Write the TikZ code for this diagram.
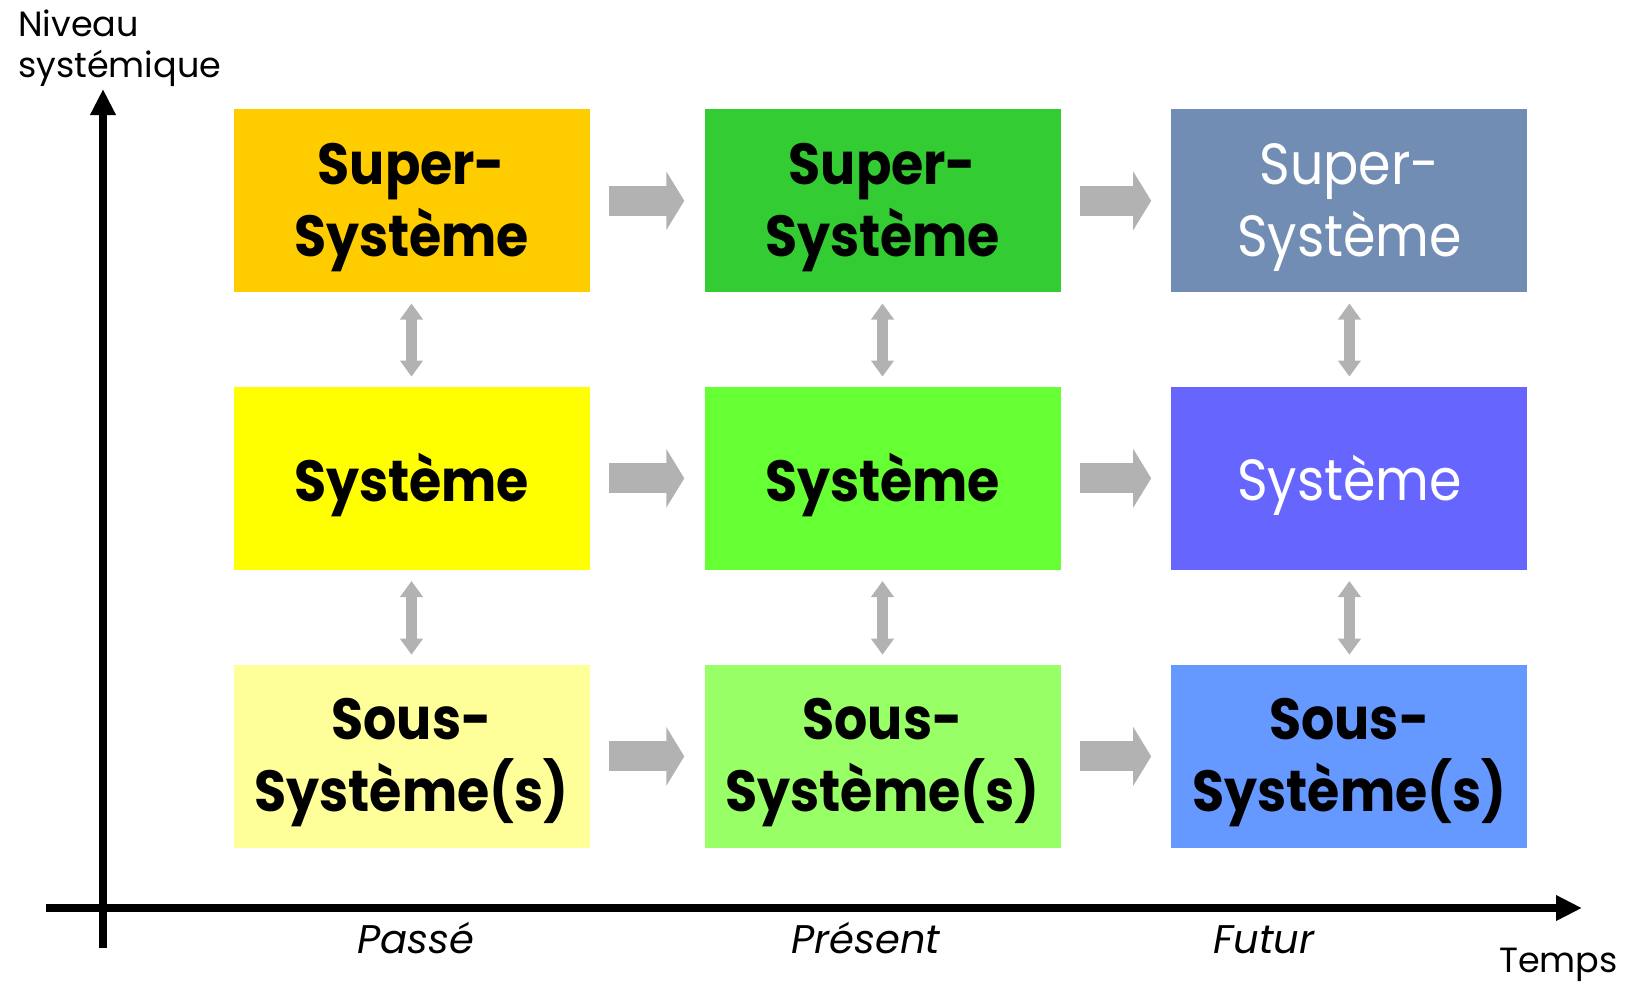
\documentclass[tikz,border=0pt]{standalone}
\usepackage{fontspec}
\setmainfont{Poppins}
\newfontfamily\boxfont[FakeStretch=0.9]{Poppins}
\usetikzlibrary{arrows.meta}

\definecolor{pastA}{RGB}{255,204,0}
\definecolor{pastB}{RGB}{255,255,0}
\definecolor{pastC}{RGB}{255,255,153}
\definecolor{presA}{RGB}{51,204,51}
\definecolor{presB}{RGB}{102,255,51}
\definecolor{presC}{RGB}{153,255,102}
\definecolor{futA}{RGB}{113,141,180}
\definecolor{futB}{RGB}{102,102,255}
\definecolor{futC}{RGB}{102,153,255}
\definecolor{flowgray}{RGB}{178,178,178}

\tikzset{
  levelbox/.style={minimum width=356pt, minimum height=183pt, inner sep=0pt},
  boxtext/.style={inner sep=0pt, align=center, yshift=-6.5pt,
    font=\boxfont\bfseries\fontsize{58}{72}\selectfont},
  lighttext/.style={boxtext, text=white,
    font=\boxfont\mdseries\fontsize{58}{72}\selectfont},
  timeflow/.style={draw=flowgray, line width=30pt,
    -{Triangle[width=58pt,length=18pt]}, shorten <=19pt, shorten >=20pt},
  levellink/.style={draw=flowgray, line width=11pt,
    {Triangle[width=22pt,length=16pt]}-{Triangle[width=22pt,length=16pt]},
    shorten <=11pt, shorten >=10pt},
  axisline/.style={draw=black, line width=8.5pt,
    -{Triangle[width=24pt,length=26pt]}},
  axislabel/.style={inner sep=0pt, font=\fontsize{35}{41}\selectfont},
  timelabel/.style={inner sep=0pt, font=\itshape\fontsize{40}{48}\selectfont},
}

\begin{document}
\begin{tikzpicture}[x=1pt, y=-1pt]
  \useasboundingbox (0,0) rectangle (1627,983);

  % boxes: columns = time, rows = systemic level
  \node[levelbox, fill=pastA, label={[boxtext]center:Super-\\Système}] (pa) at (411.5,200.8) {};
  \node[levelbox, fill=pastB, label={[boxtext]center:Système}] (pb) at (411.5,478.3) {};
  \node[levelbox, fill=pastC, label={[boxtext]center:Sous-\\Système(s)}] (pc) at (411.5,756.4) {};

  \node[levelbox, fill=presA, label={[boxtext]center:Super-\\Système}] (ra) at (882.5,200.8) {};
  \node[levelbox, fill=presB, label={[boxtext]center:Système}] (rb) at (882.5,478.3) {};
  \node[levelbox, fill=presC, label={[boxtext]center:Sous-\\Système(s)}] (rc) at (882.5,756.4) {};

  \node[levelbox, fill=futA, label={[lighttext]center:Super-\\Système}] (fa) at (1349.4,200.8) {};
  \node[levelbox, fill=futB, label={[lighttext]center:Système}] (fb) at (1349.4,478.3) {};
  \node[levelbox, fill=futC, label={[boxtext]center:Sous-\\Système(s)}] (fc) at (1349.4,756.4) {};

  % evolution in time
  \draw[timeflow] (pa.east) -- (ra.west);
  \draw[timeflow] (pb.east) -- (rb.west);
  \draw[timeflow] (pc.east) -- (rc.west);
  \draw[timeflow] (ra.east) -- (fa.west);
  \draw[timeflow] (rb.east) -- (fb.west);
  \draw[timeflow] (rc.east) -- (fc.west);

  % links between levels
  \draw[levellink] (pa.south) -- (pb.north);
  \draw[levellink] (pb.south) -- (pc.north);
  \draw[levellink] (ra.south) -- (rb.north);
  \draw[levellink] (rb.south) -- (rc.north);
  \draw[levellink] (fa.south) -- (fb.north);
  \draw[levellink] (fb.south) -- (fc.north);

  % axes
  \coordinate (ybot) at (103,948);
  \coordinate (ytop) at (103,89);
  \coordinate (xleft) at (46,908);
  \coordinate (xright) at (1582,908);
  \draw[axisline] (ybot) -- (ytop);
  \draw[axisline] (xleft) -- (xright);

  \node[axislabel, anchor=base west] (ylab) at (18,36) {Niveau};
  \node[axislabel, anchor=base west] (ylab2) at (18,77) {systémique};
  \node[axislabel, anchor=base east] (xlab) at (1618,972) {Temps};

  \node[timelabel, anchor=base] (t1) at (416,953) {Passé};
  \node[timelabel, anchor=base] (t2) at (866,953) {Présent};
  \node[timelabel, anchor=base] (t3) at (1264,953) {Futur};
\end{tikzpicture}
\end{document}
